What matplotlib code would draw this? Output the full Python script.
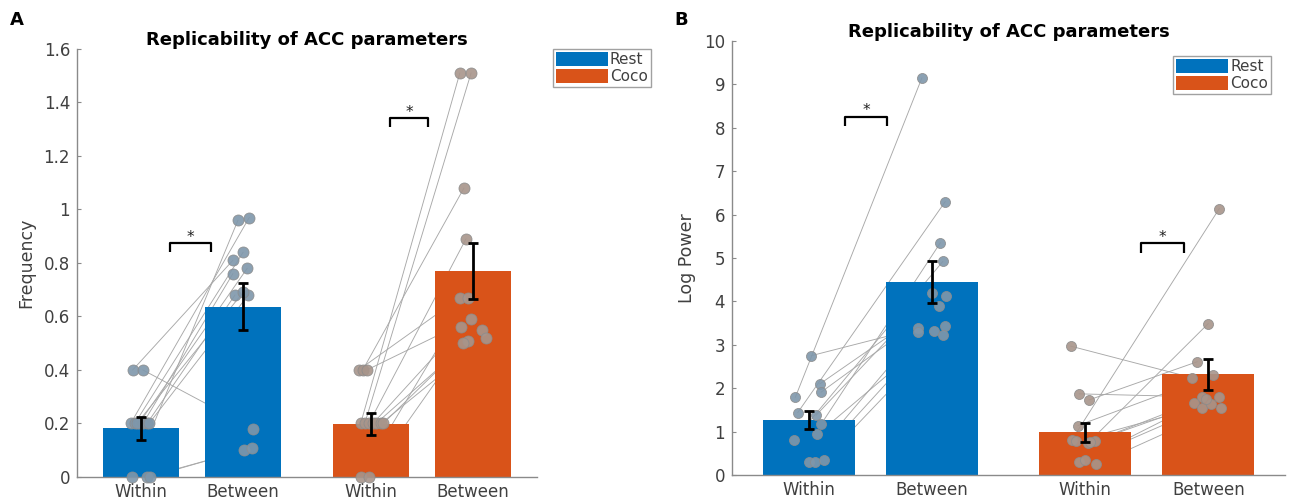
import numpy as np
import matplotlib
matplotlib.use("Agg")
import matplotlib.pyplot as plt
from matplotlib.patches import Patch
from matplotlib.ticker import FormatStrFormatter

# ---- data ----
conditions = ["Rest", "Coco"]
xtick_labels = ["Within", "Between", "Within", "Between"]
bar_pos = [1.0, 2.0, 3.25, 4.25]

# panel A: frequency
freq_mean = [0.182, 0.637, 0.198, 0.771]
freq_sem = [0.043, 0.087, 0.040, 0.105]
freq_rest_within = [0.4, 0.4, 0.2, 0.2, 0.2, 0.2, 0.2, 0.2, 0.2, 0.0, 0.0, 0.0]
freq_rest_between = [0.81, 0.18, 0.97, 0.84, 0.78, 0.76, 0.68, 0.68, 0.69, 0.96, 0.10, 0.11]
freq_coco_within = [0.4, 0.4, 0.4, 0.2, 0.2, 0.2, 0.2, 0.2, 0.2, 0.2, 0.0, 0.0]
freq_coco_between = [0.67, 1.08, 0.59, 1.51, 1.51, 0.89, 0.56, 0.55, 0.52, 0.51, 0.67, 0.50]
# horizontal scatter offsets of the dots
freq_rest_within_dx = [-0.08, 0.02, -0.10, -0.06, -0.02, 0.02, 0.06, 0.08, -0.04, -0.09, 0.06, 0.09]
freq_rest_between_dx = [-0.10, 0.10, 0.06, 0.00, 0.04, -0.10, -0.08, 0.05, 0.00, -0.05, 0.01, 0.09]
freq_coco_within_dx = [-0.12, -0.08, -0.04, -0.10, -0.06, -0.02, 0.02, 0.05, 0.10, 0.12, -0.10, -0.02]
freq_coco_between_dx = [-0.13, -0.09, -0.02, -0.13, -0.02, -0.07, -0.12, 0.09, 0.13, -0.05, -0.05, -0.10]
freq_sig_x = [(1.28, 1.69), (3.44, 3.81)]
freq_sig_y = [0.874, 1.341]

# panel B: log power
pow_mean = [1.26, 4.45, 0.98, 2.32]
pow_sem = [0.21, 0.48, 0.215, 0.355]
pow_rest_within = [2.75, 2.10, 1.91, 1.79, 1.44, 1.38, 1.17, 0.94, 0.81, 0.31, 0.31, 0.35]
pow_rest_between = [3.38, 4.12, 3.89, 9.15, 6.30, 4.19, 5.35, 3.43, 4.92, 3.29, 3.32, 3.23]
pow_coco_within = [2.97, 1.87, 1.73, 1.14, 0.81, 0.73, 0.79, 0.31, 0.25, 0.78, 0.75, 0.35]
pow_coco_between = [2.24, 1.80, 2.61, 2.30, 6.14, 3.49, 1.67, 1.54, 1.54, 1.64, 1.80, 1.75]
pow_rest_within_dx = [0.02, 0.09, 0.10, -0.11, -0.09, 0.06, 0.10, 0.07, -0.12, 0.00, 0.05, 0.12]
pow_rest_between_dx = [-0.11, 0.12, 0.06, -0.08, 0.11, 0.00, 0.07, 0.11, 0.09, -0.11, 0.02, 0.09]
pow_coco_within_dx = [-0.12, -0.05, 0.03, -0.06, -0.11, 0.02, 0.08, -0.05, 0.09, -0.08, 0.04, 0.00]
pow_coco_between_dx = [-0.13, -0.05, -0.09, 0.04, 0.09, 0.00, -0.12, -0.05, 0.10, 0.02, 0.09, -0.02]
pow_sig_x = [(1.295, 1.64), (3.70, 4.05)]
pow_sig_y = [8.26, 5.34]

# ---- style ----
REST_C = "#0072BD"
COCO_C = "#D95319"
REST_DOT = "#7f97ab"
COCO_DOT = "#a8958b"
AX_GRAY = "#8a8a8a"
TXT_GRAY = "#404040"

plt.rcParams["font.family"] = ["DejaVu Sans"]


def draw_panel(ax, means, sems, groups, sig_x, sig_y, tip, ylim, yticks, ylabel, dot_s, title_pad):
    bar_colors = [REST_C, REST_C, COCO_C, COCO_C]
    ax.bar(bar_pos, means, width=0.75, color=bar_colors, zorder=2)

    # paired subject lines (behind bars), then dots
    for (w, b, wdx, bdx, dot_c), x0, x1 in zip(groups, bar_pos[0::2], bar_pos[1::2]):
        for yw, yb, dw, db in zip(w, b, wdx, bdx):
            ax.plot([x0 + dw, x1 + db], [yw, yb], color="#a8a8a8", lw=0.65, zorder=1)
        ax.scatter(np.array(wdx) + x0, w, s=dot_s, color=dot_c, edgecolor="#8c8c8c",
                   linewidth=0.6, alpha=0.9, zorder=3, clip_on=False)
        ax.scatter(np.array(bdx) + x1, b, s=dot_s, color=dot_c, edgecolor="#8c8c8c",
                   linewidth=0.6, alpha=0.9, zorder=3, clip_on=False)

    ax.errorbar(bar_pos, means, yerr=sems, fmt="none", ecolor="black", elinewidth=2,
                capsize=3.5, capthick=2, zorder=4)

    # significance brackets
    for (xa, xb), yy in zip(sig_x, sig_y):
        ax.plot([xa, xa, xb, xb], [yy - tip, yy, yy, yy - tip], color="black", lw=1.6,
                solid_capstyle="butt", zorder=5)
        ax.annotate("*", xy=((xa + xb) / 2, yy), xytext=(0, 1), textcoords="offset points",
                    ha="center", va="baseline", fontsize=11, color="#202020")

    ax.set_xlim(0.375, 4.875)
    ax.set_ylim(*ylim)
    ax.set_yticks(yticks)
    ax.yaxis.set_major_formatter(FormatStrFormatter("%g"))
    ax.set_xticks(bar_pos)
    ax.set_xticklabels(xtick_labels)
    ax.tick_params(axis="x", length=0, pad=4, labelsize=12, labelcolor=TXT_GRAY)
    ax.tick_params(axis="y", direction="in", length=3, width=0.8, color=AX_GRAY,
                   pad=5, labelsize=12, labelcolor=TXT_GRAY)
    for side in ["top", "right"]:
        ax.spines[side].set_visible(False)
    for side in ["left", "bottom"]:
        ax.spines[side].set_color(AX_GRAY)
        ax.spines[side].set_linewidth(1.0)
    ax.set_ylabel(ylabel, fontsize=12.5, color=TXT_GRAY, labelpad=6)
    ax.set_title("Replicability of ACC parameters", fontsize=13, fontweight="bold", pad=title_pad)


fig = plt.figure(figsize=(12.94, 5.04), dpi=100)
ax_a = fig.add_axes([0.0595, 0.0536, 0.3555, 0.8492])
ax_b = fig.add_axes([0.5657, 0.0575, 0.4274, 0.8611])

draw_panel(ax_a, freq_mean, freq_sem,
           [(freq_rest_within, freq_rest_between, freq_rest_within_dx, freq_rest_between_dx, REST_DOT),
            (freq_coco_within, freq_coco_between, freq_coco_within_dx, freq_coco_between_dx, COCO_DOT)],
           freq_sig_x, freq_sig_y, 0.032, (0, 1.6), np.arange(0, 1.61, 0.2), "Frequency", 63, 2.5)
draw_panel(ax_b, pow_mean, pow_sem,
           [(pow_rest_within, pow_rest_between, pow_rest_within_dx, pow_rest_between_dx, REST_DOT),
            (pow_coco_within, pow_coco_between, pow_coco_within_dx, pow_coco_between_dx, COCO_DOT)],
           pow_sig_x, pow_sig_y, 0.22, (0, 10), np.arange(0, 11, 1), "Log Power", 52, 3)

handles = [Patch(facecolor=REST_C, edgecolor="none"), Patch(facecolor=COCO_C, edgecolor="none")]
for anchor in [(0.427, 0.903), (0.9065, 0.889)]:
    leg = fig.legend(handles, conditions, loc="upper left", bbox_to_anchor=anchor,
                     fontsize=11, handlelength=3.4, handleheight=1.0, handletextpad=0.15,
                     labelspacing=0.15, borderpad=0.2, borderaxespad=0, fancybox=False,
                     frameon=True, edgecolor=AX_GRAY)
    leg.get_frame().set_linewidth(1.0)
    for t in leg.get_texts():
        t.set_color(TXT_GRAY)

fig.text(17 / 1294, 1 - 20 / 504, "A", fontsize=13, fontweight="bold", ha="center", va="center")
fig.text(681 / 1294, 1 - 20 / 504, "B", fontsize=13, fontweight="bold", ha="center", va="center")

fig.savefig("out.png", dpi=100)
